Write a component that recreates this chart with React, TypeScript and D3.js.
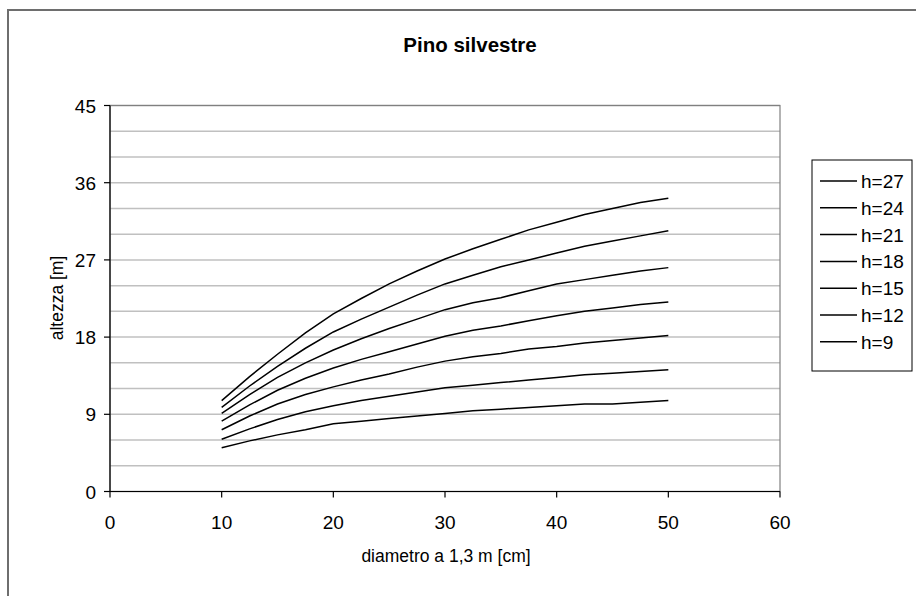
import React from "react";
import * as d3 from "d3";

const diameters = [10, 12.5, 15, 17.5, 20, 22.5, 25, 27.5, 30, 32.5, 35, 37.5, 40, 42.5, 45, 47.5, 50];
const seriesNames = ["h=27", "h=24", "h=21", "h=18", "h=15", "h=12", "h=9"];
const h27 = [10.6, 13.4, 16.0, 18.5, 20.7, 22.5, 24.2, 25.7, 27.1, 28.3, 29.4, 30.5, 31.4, 32.3, 33.0, 33.7, 34.2];
const h24 = [9.8, 12.3, 14.6, 16.7, 18.6, 20.1, 21.5, 22.9, 24.2, 25.2, 26.2, 27.0, 27.8, 28.6, 29.2, 29.8, 30.4];
const h21 = [9.1, 11.3, 13.3, 15.0, 16.5, 17.8, 19.0, 20.1, 21.2, 22.0, 22.6, 23.4, 24.2, 24.7, 25.2, 25.7, 26.1];
const h18 = [8.2, 10.1, 11.8, 13.2, 14.4, 15.4, 16.3, 17.2, 18.1, 18.8, 19.3, 19.9, 20.5, 21.0, 21.4, 21.8, 22.1];
const h15 = [7.2, 8.8, 10.2, 11.3, 12.2, 13.0, 13.7, 14.5, 15.2, 15.7, 16.1, 16.6, 16.9, 17.3, 17.6, 17.9, 18.2];
const h12 = [6.1, 7.3, 8.4, 9.3, 10.0, 10.6, 11.1, 11.6, 12.1, 12.4, 12.7, 13.0, 13.3, 13.6, 13.8, 14.0, 14.2];
const h9 = [5.1, 5.9, 6.6, 7.2, 7.9, 8.2, 8.5, 8.8, 9.1, 9.4, 9.6, 9.8, 10.0, 10.2, 10.2, 10.4, 10.6];
const seriesValues = [h27, h24, h21, h18, h15, h12, h9];
const xTicks = [0, 10, 20, 30, 40, 50, 60];
const yTicks = [0, 9, 18, 27, 36, 45];
const yGrid = d3.range(0, 46, 3);

const W = 916;
const H = 596;
const FONT = "'Liberation Sans', Arial, sans-serif";

export default function App() {
  const x = d3.scaleLinear().domain([0, 60]).range([110, 780]);
  const y = d3.scaleLinear().domain([0, 45]).range([491.5, 105.5]);
  const line = d3
    .line<[number, number]>()
    .x((d) => x(d[0]))
    .y((d) => y(d[1]));

  const legendX = 812;
  const legendY = 160;
  const legendStep = 26.8;

  return (
    <svg
      width={W}
      height={H}
      style={{ position: "absolute", left: 0, top: 0, background: "#fff" }}
      fontFamily={FONT}
    >
      <rect x={0} y={0} width={W} height={H} fill="#fff" />
      <rect x={8} y={10} width={W + 20} height={H + 20} fill="none" stroke="#6e6e6e" strokeWidth={2} />
      <text x={470} y={52} textAnchor="middle" fontSize={20.5} fontWeight="bold" fill="#000">
        Pino silvestre
      </text>
      {yGrid.map((v) => (
        <line key={"g" + v} x1={x(0)} x2={x(60)} y1={y(v)} y2={y(v)} stroke="#c0c0c0" strokeWidth={1.5} />
      ))}
      <rect x={x(0)} y={y(45)} width={x(60) - x(0)} height={y(0) - y(45)} fill="none" stroke="#808080" strokeWidth={1.2} />
      <line x1={x(0)} x2={x(0)} y1={y(45)} y2={y(0)} stroke="#000" strokeWidth={1.2} />
      <line x1={x(0)} x2={x(60)} y1={y(0)} y2={y(0)} stroke="#000" strokeWidth={1.2} />
      {yTicks.map((v) => (
        <g key={"yt" + v}>
          <line x1={x(0) - 6} x2={x(0)} y1={y(v)} y2={y(v)} stroke="#000" strokeWidth={1.2} />
          <text x={x(0) - 14} y={y(v) + 7} textAnchor="end" fontSize={19} fill="#000">
            {v}
          </text>
        </g>
      ))}
      {xTicks.map((v) => (
        <g key={"xt" + v}>
          <line x1={x(v)} x2={x(v)} y1={y(0)} y2={y(0) + 6} stroke="#000" strokeWidth={1.2} />
          <text x={x(v)} y={y(0) + 37} textAnchor="middle" fontSize={19} fill="#000">
            {v}
          </text>
        </g>
      ))}
      <text x={446} y={562} textAnchor="middle" fontSize={17.5} fill="#000">
        diametro a 1,3 m [cm]
      </text>
      <text transform={`translate(63,298) rotate(-90)`} textAnchor="middle" fontSize={17.5} fill="#000">
        altezza [m]
      </text>
      {seriesValues.map((vals, i) => (
        <path
          key={"s" + i}
          d={line(diameters.map((dv, j) => [dv, vals[j]] as [number, number])) || ""}
          fill="none"
          stroke="#000"
          strokeWidth={1.5}
        />
      ))}
      <rect x={legendX} y={legendY} width={100} height={211} fill="#fff" stroke="#000" strokeWidth={1} />
      {seriesNames.map((name, i) => {
        const cy = legendY + 21 + i * legendStep;
        return (
          <g key={"l" + name}>
            <line x1={820} x2={857} y1={cy} y2={cy} stroke="#000" strokeWidth={1.5} />
            <text x={861} y={cy + 7} fontSize={19} fill="#000">
              {name}
            </text>
          </g>
        );
      })}
    </svg>
  );
}
